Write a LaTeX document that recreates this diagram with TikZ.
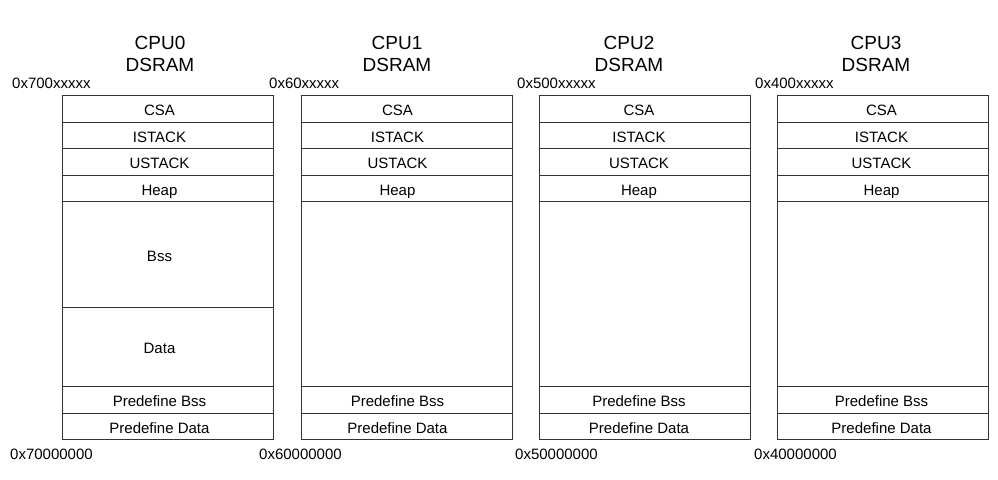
\documentclass[tikz,border=0pt]{standalone}
\usepackage{fontspec}
\setmainfont{Liberation Sans}
\begin{document}
\begin{tikzpicture}[x=1pt,y=-1pt,
  cell/.style={draw=black!80, line width=0.9pt, minimum width=211pt, inner sep=0pt, outer sep=0pt,
    anchor=north west, font=\fontsize{15}{15}\selectfont, text height=14.5pt, text depth=0pt},
  title/.style={font=\fontsize{19}{22}\selectfont, align=center, inner sep=0pt},
  addr/.style={font=\fontsize{15}{15}\selectfont, inner sep=0pt, anchor=west}]
\useasboundingbox (0,0) rectangle (998,479);
\foreach \i/\x/\s/\tx/\ax/\bx/\cpu/\ta/\ba in {
  0/62/16/160/12/10/CPU0/0x700xxxxx/0x70000000,
  1/301/18/397/269/259/CPU1/0x60xxxxx/0x60000000,
  2/539/11/629/517/515/CPU2/0x500xxxxx/0x50000000,
  3/777/2/876/755/754/CPU3/0x400xxxxx/0x40000000}{
  \node[title] (t\i) at (\tx,54) {\cpu\\DSRAM};
  \node[addr] (ta\i) at (\ax,83) {\ta};
  \node[addr] (ba\i) at (\bx,454) {\ba};
  \begin{scope}[every node/.append style={execute at end node={\hspace*{\s pt}}}]
  \node[cell, minimum height=27pt] (csa\i) at (\x,95) {CSA};
  \node[cell, minimum height=26pt] (ist\i) at (\x,122) {ISTACK};
  \node[cell, minimum height=27pt] (ust\i) at (\x,148) {USTACK};
  \node[cell, minimum height=26pt] (heap\i) at (\x,175) {Heap};
  \node[cell, minimum height=27pt] (pbss\i) at (\x,386) {Predefine Bss};
  \node[cell, minimum height=26pt] (pdat\i) at (\x,413) {Predefine Data};
  \end{scope}
}
\node[cell, minimum height=106pt, execute at end node={\hspace*{16pt}}] (bss0) at (62,201) {Bss};
\node[cell, minimum height=79pt, execute at end node={\hspace*{16pt}}] (data0) at (62,307) {Data};
\foreach \i/\x in {1/301,2/539,3/777}{
  \node[cell, minimum height=185pt] (free\i) at (\x,201) {};
}
\end{tikzpicture}
\end{document}
